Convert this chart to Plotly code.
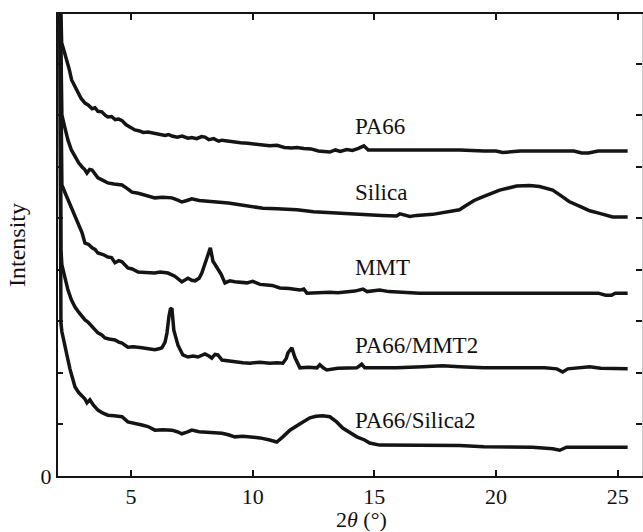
import plotly.graph_objects as go

# ---- data (2θ in degrees, intensity in arbitrary offset units) ----
pa66_x = [2.07, 2.12, 2.15, 2.25, 2.36, 2.46, 2.56, 2.7, 2.82, 2.95, 3.11, 3.25, 3.4, 3.52, 3.64, 3.8, 3.95,
          4.05, 4.2, 4.35, 4.5, 4.63, 4.8, 5.0, 5.16, 5.35, 5.5, 5.7, 5.98, 6.2, 6.4, 6.55, 6.68, 6.9, 7.1, 7.34,
          7.5, 7.7, 7.9, 8.04, 8.2, 8.4, 8.6, 8.74, 9.0, 9.27, 9.5, 9.8, 10.1, 10.42, 10.7, 11.0, 11.3, 11.6, 11.82,
          12.1, 12.4, 12.7, 13.0, 13.17, 13.4, 13.6, 13.87, 14.1, 14.35, 14.57, 14.75, 15.0, 15.22, 16.0, 17.0,
          18.51, 19.5, 20.0, 20.27, 20.7, 21.0, 22.0, 23.2, 23.52, 23.8, 24.2, 25.41]
pa66_y = [10, 8.8, 8.41, 8.25, 8.08, 7.9, 7.69, 7.55, 7.44, 7.33, 7.24, 7.20, 7.13, 7.15, 7.08, 7.07, 7.00,
          6.97, 6.98, 6.92, 6.93, 6.90, 6.82, 6.76, 6.72, 6.70, 6.67, 6.68, 6.65, 6.64, 6.61, 6.63, 6.60, 6.58, 6.60, 6.56,
          6.57, 6.55, 6.59, 6.58, 6.53, 6.55, 6.50, 6.52, 6.50, 6.49, 6.47, 6.46, 6.44, 6.43, 6.41, 6.42, 6.38, 6.37, 6.38,
          6.36, 6.35, 6.31, 6.30, 6.29, 6.33, 6.30, 6.34, 6.32, 6.36, 6.41, 6.33, 6.33, 6.33, 6.33, 6.32,
          6.33, 6.31, 6.31, 6.28, 6.30, 6.31, 6.31, 6.31, 6.27, 6.27, 6.31, 6.31]

silica_x = [2.07, 2.12, 2.16, 2.29, 2.41, 2.55, 2.70, 2.85, 2.99, 3.10, 3.19, 3.30, 3.40, 3.52, 3.64, 3.85, 4.05, 4.3,
            4.63, 4.85, 5.04, 5.3, 5.57, 5.75, 5.98, 6.3, 6.68, 6.9, 7.09, 7.3, 7.50, 7.8, 8.04, 8.4, 8.74, 9.0, 9.27,
            9.8, 10.42, 11.0, 11.82, 12.5, 13.17, 13.8, 14.53, 15.3, 15.92, 16.05, 16.46, 16.74, 17.4, 18.1, 18.5,
            18.80, 19.1, 19.45, 20.15, 20.85, 21.38, 21.79, 22.33, 22.74, 23.0, 23.52, 23.85, 24.26, 24.79, 25.41]
silica_y = [10, 7.4, 7.01, 6.75, 6.52, 6.33, 6.19, 6.08, 6.00, 5.95, 5.88, 5.95, 5.94, 5.85, 5.79, 5.74, 5.69, 5.67,
            5.65, 5.58, 5.51, 5.49, 5.46, 5.44, 5.40, 5.41, 5.40, 5.36, 5.32, 5.35, 5.38, 5.35, 5.34, 5.33, 5.32, 5.30, 5.28,
            5.24, 5.20, 5.19, 5.17, 5.13, 5.11, 5.09, 5.07, 5.06, 5.05, 5.09, 5.04, 5.06, 5.08, 5.13, 5.17,
            5.26, 5.35, 5.42, 5.55, 5.63, 5.64, 5.62, 5.55, 5.42, 5.33, 5.22, 5.15, 5.10, 5.03, 5.03]

mmt_x = [2.07, 2.12, 2.16, 2.29, 2.41, 2.55, 2.70, 2.85, 2.99, 3.11, 3.25, 3.40, 3.52, 3.64, 3.85, 4.05, 4.2, 4.34,
         4.5, 4.63, 4.87, 5.05, 5.29, 5.6, 5.98, 6.2, 6.52, 6.8, 7.09, 7.2, 7.34, 7.5, 7.63, 7.8, 7.91, 8.04, 8.12,
         8.26, 8.37, 8.53, 8.7, 8.86, 9.06, 9.27, 9.5, 9.76, 10.0, 10.3, 10.58, 10.8, 11.12, 11.5, 11.94, 12.1,
         12.23, 12.5, 13.17, 13.5, 13.87, 14.2, 14.53, 14.7, 15.22, 15.6, 16.87, 18.0, 21.79, 24.2, 24.5, 24.75,
         24.9, 25.41]
mmt_y = [10, 6.0, 5.65, 5.5, 5.36, 5.2, 5.03, 4.88, 4.72, 4.52, 4.50, 4.43, 4.40, 4.33, 4.30, 4.25, 4.24, 4.14,
         4.18, 4.16, 4.04, 4.02, 3.96, 3.95, 3.94, 3.96, 3.94, 3.88, 3.77, 3.80, 3.84, 3.80, 3.79, 3.84, 3.94, 4.12, 4.25,
         4.43, 4.17, 4.06, 3.92, 3.75, 3.79, 3.77, 3.76, 3.75, 3.78, 3.72, 3.71, 3.70, 3.65, 3.64, 3.61, 3.63,
         3.55, 3.56, 3.57, 3.56, 3.57, 3.59, 3.63, 3.58, 3.61, 3.58, 3.55, 3.55, 3.55, 3.55, 3.51, 3.51,
         3.55, 3.55]

pa66mmt_x = [2.07, 2.12, 2.16, 2.29, 2.41, 2.55, 2.70, 2.85, 2.99, 3.11, 3.23, 3.31, 3.40, 3.52, 3.64, 3.8, 3.93, 4.1,
             4.34, 4.5, 4.63, 4.87, 5.1, 5.45, 5.7, 5.98, 6.15, 6.27, 6.40, 6.48, 6.56, 6.62, 6.68, 6.76, 6.93, 7.13,
             7.34, 7.55, 7.75, 8.04, 8.2, 8.32, 8.45, 8.57, 8.74, 9.0, 9.27, 9.6, 9.89, 10.30, 10.71, 11.0, 11.24,
             11.38, 11.45, 11.61, 11.73, 11.94, 12.3, 12.64, 12.76, 12.9, 13.05, 13.5, 14.28, 14.48, 14.61, 15.0,
             15.92, 17.0, 17.81, 18.5, 19.5, 21.38, 22.0, 22.5, 22.74, 22.95, 23.6, 23.85, 24.3, 25.41]
pa66mmt_y = [10, 4.4, 4.1, 3.85, 3.61, 3.42, 3.28, 3.18, 3.09, 3.03, 2.99, 2.95, 2.89, 2.84, 2.78, 2.74, 2.68, 2.66,
             2.64, 2.60, 2.58, 2.50, 2.51, 2.49, 2.47, 2.45, 2.47, 2.49, 2.60, 2.78, 3.10, 3.24, 3.26, 2.83, 2.54, 2.35,
             2.31, 2.33, 2.31, 2.37, 2.33, 2.29, 2.36, 2.35, 2.25, 2.23, 2.21, 2.20, 2.19, 2.21, 2.19, 2.20, 2.19,
             2.28, 2.39, 2.49, 2.31, 2.10, 2.11, 2.10, 2.16, 2.10, 2.06, 2.09, 2.10, 2.17, 2.10, 2.10,
             2.10, 2.12, 2.14, 2.12, 2.10, 2.10, 2.10, 2.08, 2.02, 2.08, 2.10, 2.12, 2.09, 2.08]

pa66si_x = [2.07, 2.12, 2.16, 2.29, 2.39, 2.49, 2.6, 2.70, 2.85, 2.99, 3.1, 3.19, 3.31, 3.45, 3.64, 3.85, 4.05, 4.3,
            4.63, 4.87, 5.1, 5.45, 5.7, 5.98, 6.3, 6.68, 6.9, 7.09, 7.3, 7.50, 7.8, 8.04, 8.4, 8.74, 9.0, 9.27, 9.6,
            9.89, 10.3, 10.7, 10.99, 11.24, 11.53, 11.9, 12.35, 12.6, 12.88, 13.17, 13.45, 13.70, 14.0, 14.28, 14.6,
            14.81, 15.22, 16.0, 17.40, 18.5, 19.5, 20.44, 21.5, 22.33, 22.62, 22.9, 24.0, 25.41]
pa66si_y = [10, 2.97, 2.8, 2.55, 2.3, 2.08, 1.86, 1.73, 1.62, 1.55, 1.50, 1.42, 1.48, 1.38, 1.28, 1.22, 1.18, 1.17,
            1.15, 1.05, 1.03, 0.99, 0.96, 0.89, 0.90, 0.89, 0.86, 0.82, 0.85, 0.89, 0.86, 0.85, 0.84, 0.83, 0.80, 0.76, 0.77,
            0.76, 0.74, 0.70, 0.66, 0.76, 0.89, 1.00, 1.13, 1.16, 1.17, 1.15, 1.05, 0.93, 0.85, 0.76, 0.70,
            0.64, 0.60, 0.60, 0.60, 0.59, 0.57, 0.56, 0.56, 0.53, 0.50, 0.56, 0.56, 0.56]

labels = ["PA66", "Silica", "MMT", "PA66/MMT2", "PA66/Silica2"]
label_x = [14.11, 14.11, 14.11, 14.11, 14.11]
label_y = [6.78, 5.51, 4.04, 2.54, 1.07]

x_ticks = [5, 10, 15, 20, 25]
y_ticks = [0, 1, 2, 3, 4, 5, 6, 7, 8, 9]
y_ticktext = ["0", "", "", "", "", "", "", "", "", ""]

FONT = "Liberation Serif, Times New Roman, serif"
INK = "#141414"

fig = go.Figure()
series = [(pa66_x, pa66_y), (silica_x, silica_y), (mmt_x, mmt_y),
          (pa66mmt_x, pa66mmt_y), (pa66si_x, pa66si_y)]
for (xs, ys), name in zip(series, labels):
    fig.add_trace(go.Scatter(x=xs, y=ys, mode="lines", name=name,
                             line=dict(color=INK, width=3.5), showlegend=False))
# empty trace to anchor the right-hand tick axis
fig.add_trace(go.Scatter(x=[], y=[], yaxis="y2", showlegend=False))

for t, lx, ly in zip(labels, label_x, label_y):
    fig.add_annotation(x=lx, y=ly, text=t, showarrow=False, xanchor="left", yanchor="middle",
                       font=dict(family=FONT, size=23, color="#111"))

# x-axis title (placed slightly right of centre, as in the original)
fig.add_annotation(xref="paper", yref="paper", x=0.5205, y=-0.095, text="2<i>θ</i> (°)",
                   showarrow=False, xanchor="center", yanchor="middle",
                   font=dict(family=FONT, size=22, color="#111"))

fig.update_layout(
    width=643, height=532,
    margin=dict(l=58, r=1, t=14, b=56),
    paper_bgcolor="white", plot_bgcolor="white",
    font=dict(family=FONT, size=22, color="#111"),
    xaxis=dict(range=[2, 26], tickvals=x_ticks, ticks="inside", ticklen=6, tickwidth=2,
               tickcolor=INK, showline=True, linecolor=INK, linewidth=2, mirror="ticks",
               showgrid=False, zeroline=False,
               tickfont=dict(family=FONT, size=22)),
    yaxis=dict(range=[0, 8.97], tickvals=y_ticks, ticktext=y_ticktext, ticks="inside", ticklen=5,
               tickwidth=2, tickcolor=INK, showline=True, linecolor=INK, linewidth=2,
               showgrid=False, zeroline=False,
               title=dict(text="Intensity", standoff=8, font=dict(family=FONT, size=24)),
               tickfont=dict(family=FONT, size=22)),
    yaxis2=dict(range=[0, 8.97], overlaying="y", side="right", tickvals=y_ticks,
                showticklabels=False, ticks="inside", ticklen=6, tickwidth=2, tickcolor=INK,
                showline=True, linecolor="#c8c8c8", linewidth=1, showgrid=False, zeroline=False),
)

fig.write_html("out.html")
